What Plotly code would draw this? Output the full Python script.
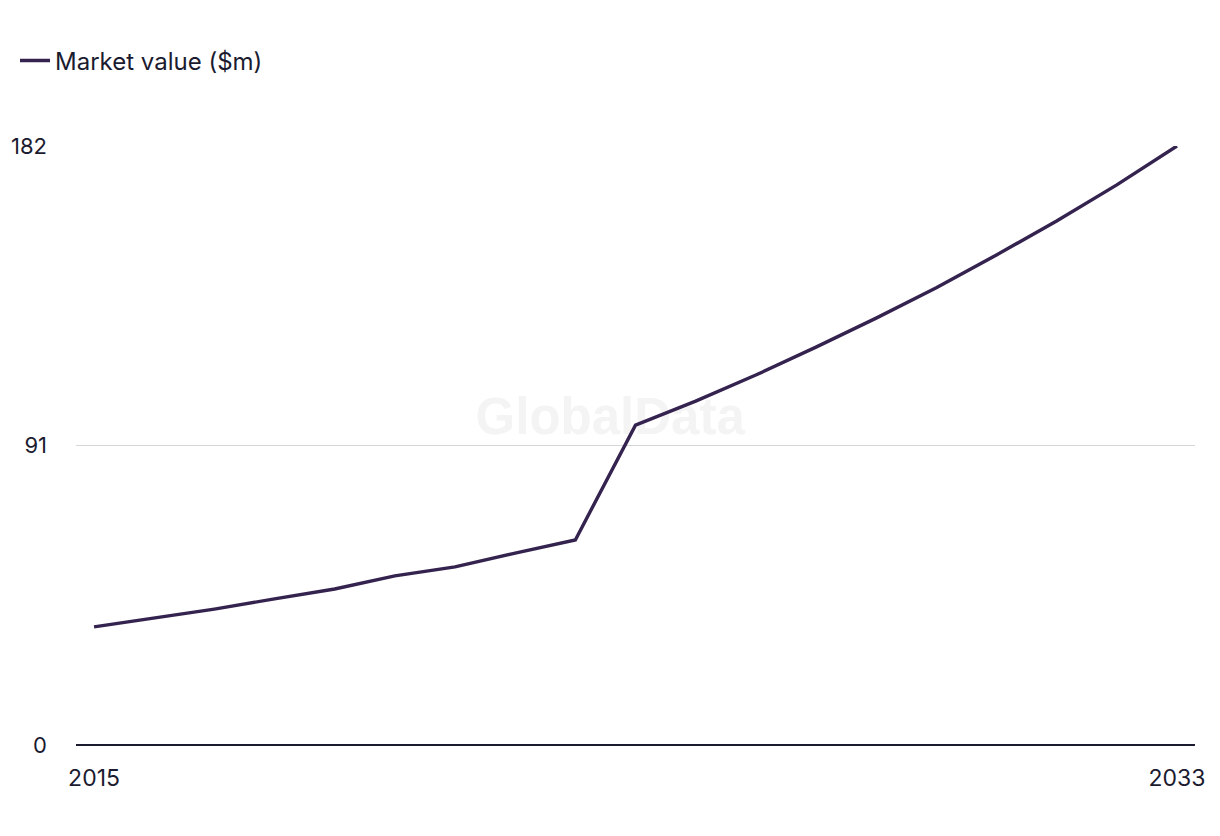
import plotly.graph_objects as go

years = list(range(2015, 2034))
market_value = [35.9, 38.6, 41.3, 44.4, 47.4, 51.4, 54.1, 58.3, 62.3,
                97.2, 104.5, 112.4, 120.9, 129.7, 138.9, 148.9, 159.2, 170.2, 182.0]
series_name = "Market value ($m)"
y_ticks = [0, 91, 182]
x_ticks = [2015, 2033]
watermark = "GlobalData"

TEXT = "#1b1b2f"
LINE = "#35234f"
FONT = "Inter"

fig = go.Figure()
# watermark drawn beneath the data line
fig.add_trace(go.Scatter(
    x=[2023.58], y=[98.4], mode="text", text=[f"<b>{watermark}</b>"],
    textfont=dict(family="Liberation Sans", size=51, color="#f4f4f4"),
    showlegend=False, hoverinfo="skip",
))
fig.add_trace(go.Scatter(
    x=years, y=market_value, mode="lines", name=series_name,
    line=dict(color=LINE, width=3.4),
))

fig.update_layout(
    width=1220, height=836,
    margin=dict(l=68, r=33, t=138, b=99, autoexpand=False),
    paper_bgcolor="white", plot_bgcolor="white",
    font=dict(family=FONT, size=23, color=TEXT),
    showlegend=True,
    legend=dict(orientation="h", x=-0.0545, xanchor="left", y=1.142, yanchor="middle",
                font=dict(family=FONT, size=24, color=TEXT), itemwidth=30),
    xaxis=dict(range=[2014.7, 2033.3], tickvals=x_ticks, ticktext=[str(v) for v in x_ticks],
               showgrid=False, zeroline=False, showline=False, ticks="outside",
               ticklen=12, tickcolor="rgba(0,0,0,0)", automargin=False,
               tickfont=dict(size=23, color=TEXT)),
    yaxis=dict(range=[0, 182], tickvals=y_ticks, showgrid=True, gridcolor="#d6d6d6",
               gridwidth=1.2, zeroline=True, zerolinecolor=TEXT, zerolinewidth=2,
               showline=False, ticks="", ticklabelstandoff=28, automargin=False,
               tickfont=dict(size=22, color=TEXT)),
)

fig.write_html("out.html")
